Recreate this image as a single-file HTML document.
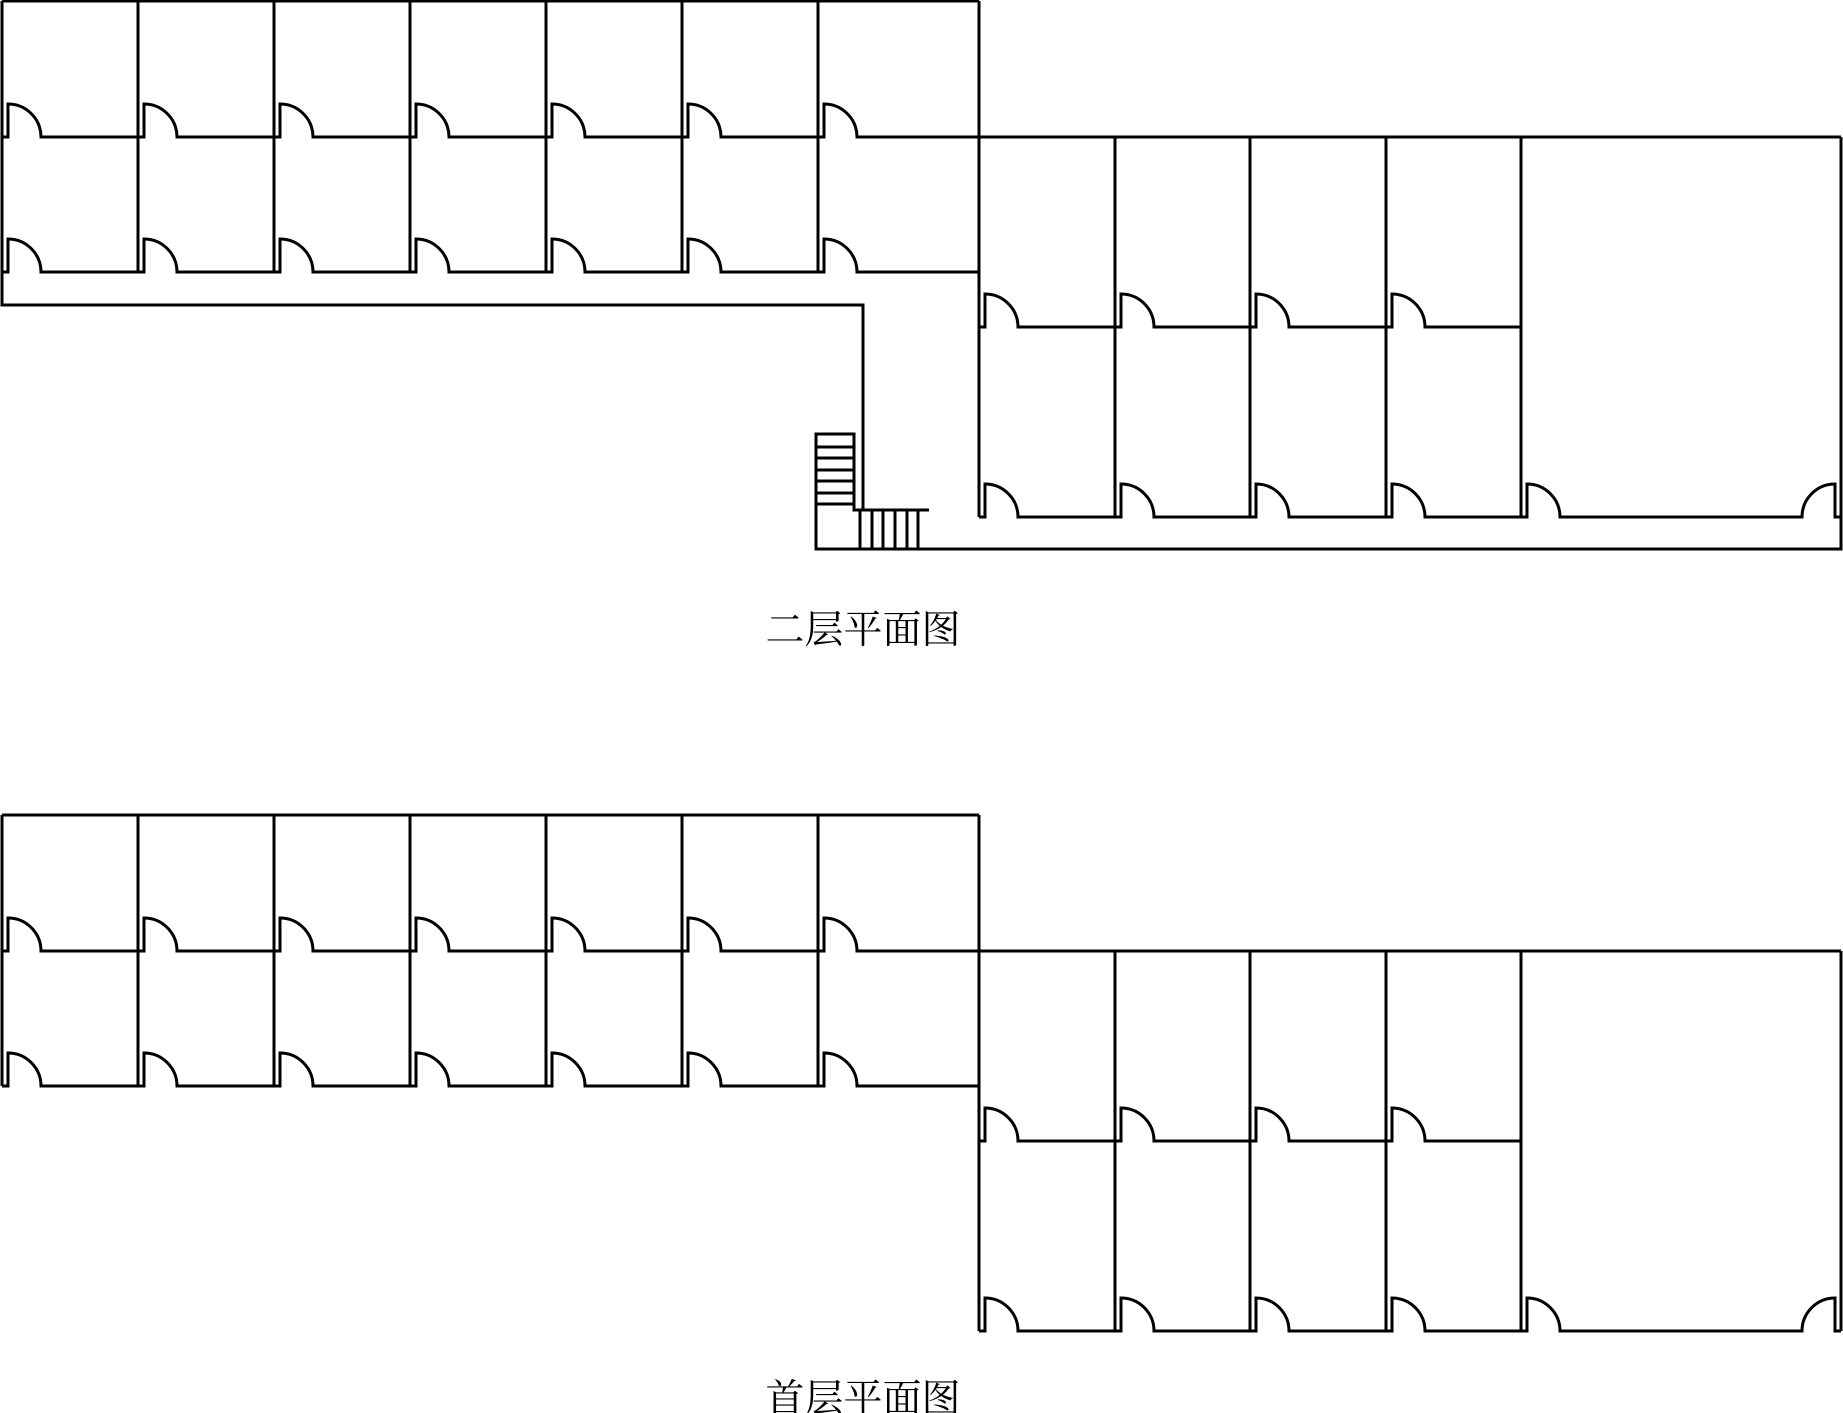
<!DOCTYPE html>
<html><head><meta charset="utf-8"><style>
html,body{margin:0;padding:0;background:#fff;}
svg{display:block;}
text{font-family:"Liberation Serif","Noto Serif CJK SC",serif;font-size:39px;fill:#000;}
</style></head><body>
<svg width="1843" height="1413" viewBox="0 0 1843 1413" xmlns="http://www.w3.org/2000/svg">
<defs>
<g id="common" fill="none" stroke="#000" stroke-width="3" stroke-linejoin="miter">
  <path d="M2 1 H979"/>
  <path d="M138 1 V272 M274 1 V272 M410 1 V272 M546 1 V272 M682 1 V272 M818 1 V272"/>
  <path d="M979 1 V517"/>
  <path d="M2 137 H8 V104 A33 33 0 0 1 41 137 H138 H144 V104 A33 33 0 0 1 177 137 H274 H280 V104 A33 33 0 0 1 313 137 H410 H416 V104 A33 33 0 0 1 449 137 H546 H552 V104 A33 33 0 0 1 585 137 H682 H688 V104 A33 33 0 0 1 721 137 H818 H824 V104 A33 33 0 0 1 857 137 H1841"/>
  <path d="M2 272 H8 V239 A33 33 0 0 1 41 272 H138 H144 V239 A33 33 0 0 1 177 272 H274 H280 V239 A33 33 0 0 1 313 272 H410 H416 V239 A33 33 0 0 1 449 272 H546 H552 V239 A33 33 0 0 1 585 272 H682 H688 V239 A33 33 0 0 1 721 272 H818 H824 V239 A33 33 0 0 1 857 272 H979"/>
  <path d="M1115 137 V517 M1250 137 V517 M1386 137 V517 M1521 137 V517"/>
  <path d="M979 327 H985 V294 A33 33 0 0 1 1018 327 H1115 H1121 V294 A33 33 0 0 1 1154 327 H1250 H1256 V294 A33 33 0 0 1 1289 327 H1386 H1392 V294 A33 33 0 0 1 1425 327 H1521"/>
  <path d="M979 517 H985 V484 A33 33 0 0 1 1018 517 H1115 H1121 V484 A33 33 0 0 1 1154 517 H1250 H1256 V484 A33 33 0 0 1 1289 517 H1386 H1392 V484 A33 33 0 0 1 1425 517 H1521 H1527 V484 A33 33 0 0 1 1560 517 H1802 A33 33 0 0 1 1835 484 V517 H1841"/>
</g>
</defs>

<use href="#common"/>
<g fill="none" stroke="#000" stroke-width="3">
  <path d="M2 1 V305 H863 V510"/>
  <path d="M1841 137 V549 H816 V434 H854 V510 H929"/>
  <path d="M816 447 H854 M816 458 H854 M816 470 H854 M816 481 H854 M816 493 H854 M816 504 H854"/>
  <path d="M860 510 V549 M872 510 V549 M883 510 V549 M895 510 V549 M907 510 V549 M918 510 V549"/>
</g>
<text x="863" y="643" text-anchor="middle">二层平面图</text>

<g transform="translate(0,814)">
  <use href="#common"/>
  <g fill="none" stroke="#000" stroke-width="3">
    <path d="M2 1 V272"/>
    <path d="M1841 137 V517"/>
  </g>
</g>
<text x="863" y="1412" text-anchor="middle">首层平面图</text>
</svg>
</body></html>
